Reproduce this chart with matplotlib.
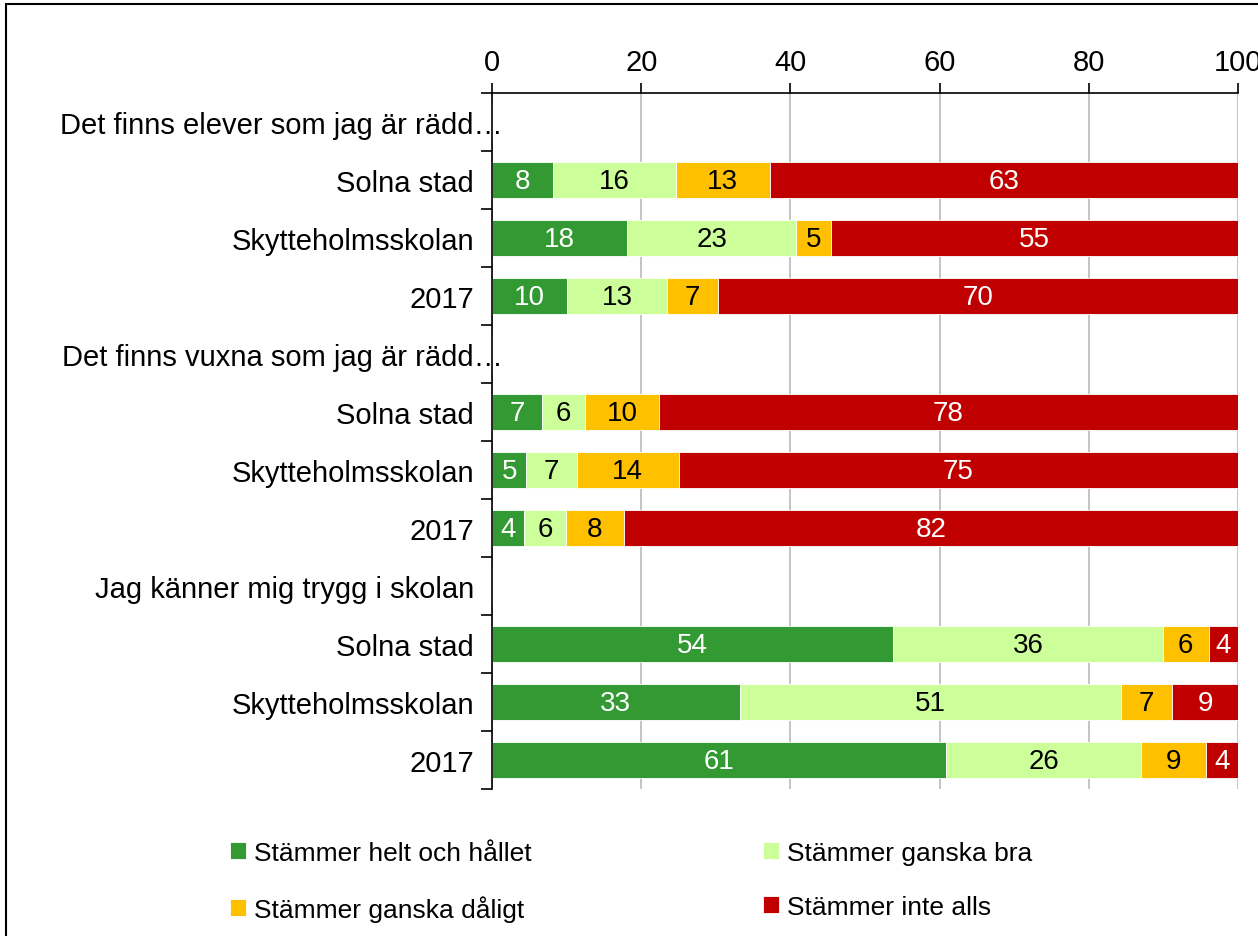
import matplotlib
matplotlib.use("Agg")
import matplotlib.pyplot as plt
from matplotlib.patches import Rectangle
from matplotlib.transforms import ScaledTranslation
import numpy as np

plt.rcParams['font.family'] = ['Liberation Sans', 'DejaVu Sans']

categories = [
    "Det finns elever som jag är rädd…", "Solna stad", "Skytteholmsskolan", "2017",
    "Det finns vuxna som jag är rädd…", "Solna stad", "Skytteholmsskolan", "2017",
    "Jag känner mig trygg i skolan", "Solna stad", "Skytteholmsskolan", "2017",
]
series_names = ["Stämmer helt och hållet", "Stämmer ganska bra",
                "Stämmer ganska dåligt", "Stämmer inte alls"]
helt    = [np.nan, 8.2, 18.1, 10.1, np.nan, 6.7, 4.6, 4.3, np.nan, 53.8, 33.2, 60.9]
bra     = [np.nan, 16.4, 22.7, 13.4, np.nan, 5.8, 6.8, 5.6, np.nan, 36.1, 51.1, 26.1]
daligt  = [np.nan, 12.6, 4.6, 6.8, np.nan, 9.9, 13.6, 7.8, np.nan, 6.2, 6.9, 8.7]
inte    = [np.nan, 62.8, 54.6, 69.7, np.nan, 77.6, 75.0, 82.3, np.nan, 3.9, 8.8, 4.3]
colors = ["#339933", "#CCFF99", "#FFC000", "#C00000"]
label_colors = ["white", "black", "black", "white"]
xticks = [0, 20, 40, 60, 80, 100]

fig = plt.figure(figsize=(12.58, 9.37), dpi=100)
ax = fig.add_axes([492/1258, 1-790/937, (1238-492)/1258, (790-94)/937])

y = np.arange(len(categories))
left = np.zeros(len(categories))
handles = []
for vals, col, lc, name in zip([helt, bra, daligt, inte], colors, label_colors, series_names):
    v = np.array(vals, dtype=float)
    vv = np.nan_to_num(v)
    bars = ax.barh(y, vv, left=left, height=0.62, color=col, edgecolor='white',
                   linewidth=0.6, label=name, zorder=3)
    handles.append(bars)
    for yi, (l, w) in enumerate(zip(left, v)):
        if not np.isnan(w):
            ax.text(l + w/2, yi + 0.02, f"{int(round(w))}", ha='center', va='center',
                    color=lc, fontsize=20, zorder=4)
    left = left + vv

ax.set_xlim(0, 100)
ax.set_ylim(len(categories) - 0.5, -0.5)
ax.xaxis.tick_top()
ax.set_xticks(xticks)
ax.set_xticklabels([str(t) for t in xticks], fontsize=21)
ax.tick_params(axis='x', which='major', length=7, width=1.2, color='black', pad=5)
ax.grid(axis='x', color='#BFBFBF', linewidth=1.3, zorder=0)
ax.set_yticks(y)
ax.set_yticklabels(categories, fontsize=21)
ax.set_yticks(np.arange(-0.5, len(categories)), minor=True)
ax.tick_params(axis='y', which='major', length=0, pad=13)
ax.tick_params(axis='y', which='minor', length=8, width=1.2, color='black')
for s in ['right', 'bottom']:
    ax.spines[s].set_visible(False)
for s in ['left', 'top']:
    ax.spines[s].set_linewidth(1.2)
    ax.spines[s].set_zorder(5)

# header labels with ellipsis run slightly past the axis, as in the original
for lab in ax.get_yticklabels():
    if lab.get_text().endswith("…"):
        lab.set_transform(lab.get_transform() + ScaledTranslation(29/100, 0, fig.dpi_scale_trans))

order = [0, 2, 1, 3]
leg = fig.legend([handles[i] for i in order], [series_names[i] for i in order],
                 ncol=2, loc='upper left', bbox_to_anchor=(206/1258, 1-818/937),
                 frameon=False, fontsize=19, handlelength=0.6, handleheight=0.6,
                 handletextpad=0.3, columnspacing=8.8, labelspacing=1.15)

fig.patches.append(Rectangle((6/1258, -0.05), 1.1, 1-5/937+0.05, transform=fig.transFigure,
                             fill=False, edgecolor='black', linewidth=1.5))

fig.savefig("out.png", dpi=100)
